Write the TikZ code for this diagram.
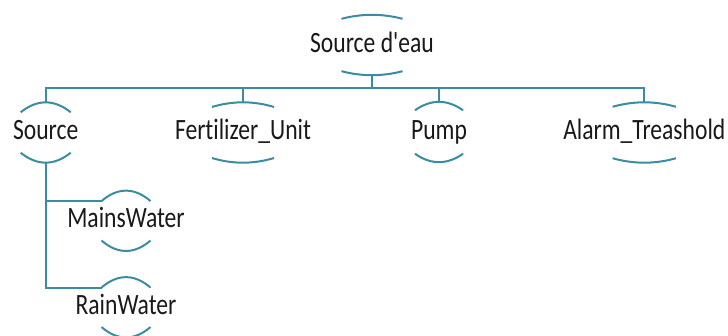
\documentclass[tikz,border=0pt]{standalone}
\usepackage{fontspec}
\setmainfont[FakeStretch=0.8, Ligatures={NoCommon,TeXOff}]{Carlito}
\definecolor{wirecol}{RGB}{58,140,162}
\definecolor{inkcol}{RGB}{25,25,25}
\tikzset{
  wire/.style={draw=wirecol, line width=2pt},
  item/.style={inner sep=0pt, minimum height=60pt, text height=14pt, text depth=0pt,
               font=\fontsize{29.5}{30}\selectfont, text=inkcol},
}
% top and bottom arcs of an item: #1 name, #2 half width, #3 sag of the arc ends
\newcommand{\ringarcs}[3]{%
  \draw[wire] ([shift={(-#2,#3)}]#1.north) parabola bend (#1.north) ([shift={(#2,#3)}]#1.north);
  \draw[wire] ([shift={(-#2,-#3)}]#1.south) parabola bend (#1.south) ([shift={(#2,-#3)}]#1.south);
}
\begin{document}
\begin{tikzpicture}[x=1pt, y=-1pt]
  \useasboundingbox (0,0) rectangle (728,335);

  \node[item] (root)  at (372,45)    {Source d'eau};
  \node[item] (src)   at (45.7,132.5) {Source};
  \node[item] (fert)  at (243,132.5) {Fertilizer\_Unit};
  \node[item] (pump)  at (439,132)   {Pump};
  \node[item] (alarm) at (644.3,132.5) {Alarm\_Treashold};
  \node[item] (mains) at (126,220.8) {MainsWater};
  \node[item] (rain)  at (126,307.3) {RainWater};

  \ringarcs{root}{30.5}{4}
  \ringarcs{src}{25}{10}
  \ringarcs{fert}{31}{4.7}
  \ringarcs{pump}{24}{8.5}
  \ringarcs{alarm}{31.7}{4.5}
  \ringarcs{mains}{24.5}{10.5}
  \ringarcs{rain}{24.5}{10.5}

  % main bus
  \coordinate (bus) at (0,87.7);
  \draw[wire] (root.south) -- (root.south |- bus);
  \draw[wire] (src.north) |- (bus -| alarm.north) -- (alarm.north);
  \draw[wire] (fert.north) -- (fert.north |- bus);
  \draw[wire] (pump.north) -- (pump.north |- bus);

  % branches of the source
  \draw[wire] (src.south) |- ([shift={(-24.5,10.5)}]mains.north);
  \draw[wire] (src.south) |- ([shift={(-24.5,10.5)}]rain.north);
\end{tikzpicture}
\end{document}
